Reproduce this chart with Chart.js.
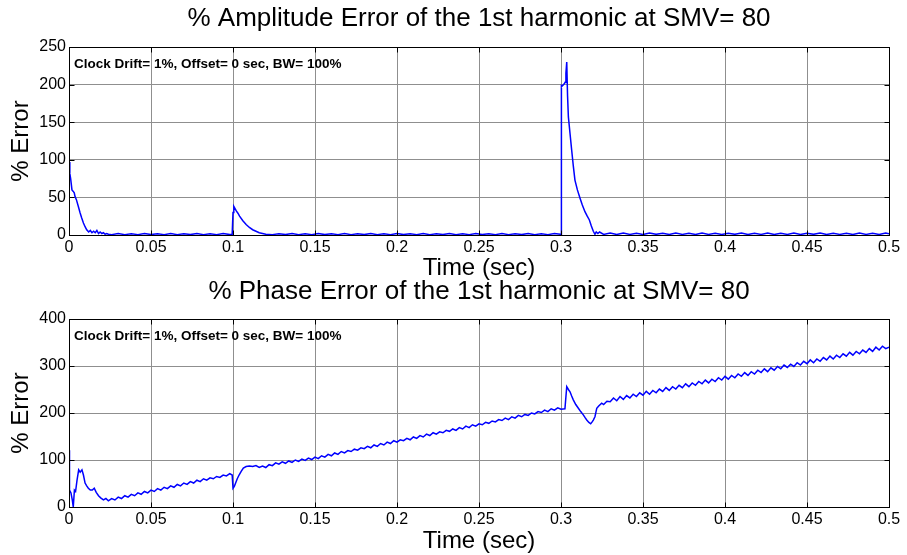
<!DOCTYPE html>
<html><head><meta charset="utf-8">
<script src="https://cdn.jsdelivr.net/npm/chart.js@4/dist/chart.umd.min.js"></script>
<style>
html,body{margin:0;padding:0;background:#fff;}
#wrap{position:relative;width:907px;height:555px;overflow:hidden;background:#fff;}
canvas{position:absolute;left:0;}
</style></head><body>
<div id="wrap">
<canvas id="c1" width="907" height="280" style="top:0"></canvas>
<canvas id="c2" width="907" height="275" style="top:280px"></canvas>
</div>
<script>
// ---------- DATA ----------
const xTickValues = [0,0.05,0.1,0.15,0.2,0.25,0.3,0.35,0.4,0.45,0.5];
const xTickLabels = ['0','0.05','0.1','0.15','0.2','0.25','0.3','0.35','0.4','0.45','0.5'];
const ampYTicks = [0,50,100,150,200,250];
const phaseYTicks = [0,100,200,300,400];

const ampTitle = '% Amplitude Error of the 1st harmonic at SMV= 80';
const phaseTitle = '% Phase Error of the 1st harmonic at SMV= 80';
const xAxisTitle = 'Time (sec)';
const yAxisTitle = '% Error';
const noteText = 'Clock Drift= 1%, Offset= 0 sec, BW= 100%';

const ampTime = [
0,0.0005,0.001,0.0018,0.0026,0.0032,0.0037,0.0045,0.0057,0.0067,0.0077,0.0088,0.0098,0.0108,0.012,0.013,0.014,0.015,0.016,0.017,0.018,0.019,0.02,0.021,0.022,0.023,0.024,
0.026,0.03,0.034,0.038,0.042,0.046,0.05,0.054,0.058,0.062,0.066,0.07,0.074,0.078,0.082,0.086,0.09,0.094,0.098,
0.0995,0.1,0.1005,0.101,0.102,0.103,0.104,0.106,0.108,0.11,0.112,0.114,0.116,0.118,0.12,
0.124,0.128,0.132,0.136,0.14,0.144,0.148,0.152,0.156,0.16,0.164,0.168,0.172,0.176,0.18,0.184,0.188,0.192,0.196,0.2,0.204,0.208,0.212,0.216,0.22,0.224,0.228,0.232,0.236,0.24,0.244,0.248,0.252,0.256,0.26,0.264,0.268,0.272,0.276,0.28,0.284,0.288,0.292,0.296,
0.2995,0.3,0.3,0.3005,0.3012,0.302,0.3025,0.303,0.3035,0.304,0.3045,0.3055,0.3065,0.3075,0.3085,0.31,0.3116,0.313,0.3146,0.316,0.3173,0.3185,0.3197,0.3207,0.3215,0.3225,0.3235,
0.326,0.33,0.334,0.338,0.342,0.346,0.35,0.354,0.358,0.362,0.366,0.37,0.374,0.378,0.382,0.386,0.39,0.394,0.398,0.402,0.406,0.41,0.414,0.418,0.422,0.426,0.43,0.434,0.438,0.442,0.446,0.45,0.454,0.458,0.462,0.466,0.47,0.474,0.478,0.482,0.486,0.49,0.494,0.498,0.5
];
const ampError = [
97,82,75,60,58,56,51,47,38,30,23,16,11,7,4,6,3,5,3,6,2,4,2,3,1,2,1,
0.5,2,0.5,1.8,0.5,2,0.6,1.8,0.5,2,0.5,1.8,0.6,2,0.5,1.8,0.5,2,0.6,
1,30,38,36,32,29,25,19,14,10,7,5,3,2,1,
0.5,1.8,0.6,2,0.5,1.7,0.5,1.9,0.6,1.8,0.5,2,0.5,1.8,0.6,1.9,0.5,1.8,0.5,2,0.6,1.8,0.5,1.9,0.5,1.8,0.6,2,0.5,1.8,0.5,1.9,0.6,1.8,0.5,2,0.5,1.8,0.6,1.9,0.5,1.8,0.5,2,
1,0,200,197,199,201,203,215,230,185,157,135,113,92,73,60,49,40,31,25,20,12,5,1,4,2,4,
0.8,2.5,0.7,2.6,0.8,2.3,0.7,2.5,0.9,2.4,0.7,2.6,0.8,2.3,0.7,2.5,0.8,2.4,0.7,2.3,0.9,2.6,0.7,2.4,0.8,2.5,0.7,2.3,0.8,2.6,0.7,2.4,0.9,2.5,0.7,2.4,0.8,2.3,0.7,2.6,0.8,2.4,0.7,2.5,1.5
];

const phaseTime = [
0,0.0003,0.0012,0.002,0.0026,0.0033,0.004,0.0049,0.0059,0.0068,0.0079,0.0088,0.0098,0.0108,0.0118,0.013,0.0142,0.0154,0.0166,0.018,0.0195,0.021,0.0225,
0.024,0.026,0.028,0.03,0.032,0.034,0.036,0.038,0.04,0.042,0.044,0.046,0.048,0.05,0.052,0.054,0.056,0.058,0.06,0.062,0.064,0.066,0.068,0.07,0.072,0.074,0.076,0.078,0.08,0.082,0.084,0.086,0.088,0.09,0.092,0.094,0.096,0.098,0.0995,
0.1,0.1008,0.1016,0.1026,0.1037,0.105,0.1063,0.108,0.11,
0.112,0.114,0.116,0.118,0.12,0.122,0.124,0.126,0.128,0.13,
0.132,0.134,0.136,0.138,0.14,0.142,0.144,0.146,0.148,0.15,
0.152,0.154,0.156,0.158,0.16,0.162,0.164,0.166,0.168,0.17,
0.172,0.174,0.176,0.178,0.18,0.182,0.184,0.186,0.188,0.19,
0.192,0.194,0.196,0.198,0.2,0.202,0.204,0.206,0.208,0.21,
0.212,0.214,0.216,0.218,0.22,0.222,0.224,0.226,0.228,0.23,
0.232,0.234,0.236,0.238,0.24,0.242,0.244,0.246,0.248,0.25,
0.252,0.254,0.256,0.258,0.26,0.262,0.264,0.266,0.268,0.27,
0.272,0.274,0.276,0.278,0.28,0.282,0.284,0.286,0.288,0.29,
0.292,0.294,0.296,0.298,
0.3,0.3024,0.3035,0.3045,0.3055,0.3065,0.3075,0.309,0.3106,0.312,0.3136,0.3147,0.3157,0.317,0.3181,0.319,0.3197,0.3207,0.3218,0.323,0.3248,0.326,0.328,
0.33,0.332,0.334,0.336,0.338,0.34,0.342,0.344,0.346,0.348,
0.35,0.352,0.354,0.356,0.358,0.36,0.362,0.364,0.366,0.368,
0.37,0.372,0.374,0.376,0.378,0.38,0.382,0.384,0.386,0.388,
0.39,0.392,0.394,0.396,0.398,0.4,0.402,0.404,0.406,0.408,
0.41,0.412,0.414,0.416,0.418,0.42,0.422,0.424,0.426,0.428,
0.43,0.432,0.434,0.436,0.438,0.44,0.442,0.444,0.446,0.448,
0.45,0.452,0.454,0.456,0.458,0.46,0.462,0.464,0.466,0.468,
0.47,0.472,0.474,0.476,0.478,0.48,0.482,0.484,0.486,0.488,
0.49,0.492,0.494,0.496,0.498,0.5
];
const phaseError = [
121,36,30,15,0,36,33,57,79,74,79,68,51,45,40,36,36,40,31,24,19,15,18,
13,18,15,21,18,24,21,27,24,30,27,33,30,36,33,39,36,42,39,45,42,48,45,51,48,54,51,57,54,60,57,62,60,65,63,68,66,71,68,
40,44,51,60,68,76,83,86,87,
86,88,84,87,84,90,88,94,91,96,
93,98,95,100,97,102,99,104,101,106,
103,109,106,112,109,115,112,118,115,120,
118,123,121,126,124,129,126,132,129,135,
132,138,135,141,138,143,141,146,143,149,
146,152,149,155,152,158,155,160,158,163,
161,166,163,169,166,172,169,175,172,177,
175,180,178,183,181,186,184,189,186,192,
189,195,192,197,195,200,198,203,201,206,
203,209,206,211,
208,209,256,250,245,236,228,218,210,203,196,190,185,180,177,181,185,192,210,215,221,218,225,
224,232,226,235,229,237,232,240,235,243,
238,246,240,248,243,251,246,254,248,256,
251,259,254,262,256,264,259,267,262,270,
264,272,267,275,270,278,272,280,275,283,
278,286,280,288,283,291,286,294,288,296,
291,299,294,302,297,304,299,307,302,310,
305,313,307,315,310,318,313,321,315,323,
318,326,321,329,323,331,326,334,329,337,
331,340,334,342,337,340
];

// ---------- RENDER ----------
const FONT = '"Liberation Sans", Arial, Helvetica, sans-serif';

const decor = {
  id: 'decor',
  afterDatasetsDraw(chart, args, o) {
    const {ctx, chartArea: a, scales: {x, y}} = chart;
    const L = Math.round(a.left) + 0.5, R = Math.round(a.right) + 0.5;
    const T = Math.round(a.top) + 0.5, B = Math.round(a.bottom) + 0.5;
    ctx.save();
    ctx.strokeStyle = '#000';
    ctx.lineWidth = 1;
    ctx.beginPath();
    x.ticks.forEach(t => {
      const px = Math.round(x.getPixelForValue(t.value)) + 0.5;
      ctx.moveTo(px, B); ctx.lineTo(px, B - 5);
      ctx.moveTo(px, T); ctx.lineTo(px, T + 5);
    });
    y.ticks.forEach(t => {
      const py = Math.round(y.getPixelForValue(t.value)) + 0.5;
      ctx.moveTo(L, py); ctx.lineTo(L + 5, py);
      ctx.moveTo(R, py); ctx.lineTo(R - 5, py);
    });
    ctx.stroke();
    ctx.strokeRect(L, T, R - L, B - T);
    // annotation
    ctx.fillStyle = '#000';
    ctx.font = 'bold 13.5px ' + FONT;
    ctx.textAlign = 'left';
    ctx.textBaseline = 'middle';
    ctx.fillText(o.note, a.left + 5, a.top + 17);
    // title centered over plot area
    ctx.font = o.titleSize + 'px ' + FONT;
    ctx.textAlign = 'center';
    ctx.fillText(o.title, (a.left + a.right) / 2, o.titleY);
    ctx.restore();
  }
};

function makeChart(id, times, values, yTicks, yMax, geo) {
  const pts = times.map((t, i) => ({x: t, y: values[i]}));
  return new Chart(document.getElementById(id), {
    type: 'line',
    data: {datasets: [{data: pts, borderColor: '#0000ff', borderWidth: 1.5, pointRadius: 0, tension: 0, fill: false}]},
    plugins: [decor],
    options: {
      responsive: false,
      animation: false,
      layout: {padding: {top: geo.top, right: 18, left: 0, bottom: 0}},
      plugins: {
        legend: {display: false},
        tooltip: {enabled: false},
        decor: {note: noteText, title: geo.title, titleY: geo.titleY, titleSize: geo.titleSize}
      },
      scales: {
        x: {
          type: 'linear', min: 0, max: 0.5,
          afterBuildTicks: s => { s.ticks = xTickValues.map(v => ({value: v})); },
          afterFit: s => { s.height = geo.xh; },
          ticks: {color: '#000', padding: 3, font: {family: FONT, size: 16}, maxRotation: 0, autoSkip: false,
                  callback: (v, i) => xTickLabels[i]},
          grid: {color: '#8f8f8f', lineWidth: 1, drawTicks: false},
          border: {display: false},
          title: {display: true, text: xAxisTitle, color: '#000', font: {family: FONT, size: 24, lineHeight: 1}, padding: {top: 0, bottom: geo.xtb}}
        },
        y: {
          type: 'linear', min: 0, max: yMax,
          afterBuildTicks: s => { s.ticks = yTicks.map(v => ({value: v})); },
          afterFit: s => { s.width = 69; },
          ticks: {color: '#000', padding: 3, font: {family: FONT, size: 16}, autoSkip: false,
                  callback: v => String(v)},
          grid: {color: '#8f8f8f', lineWidth: 1, drawTicks: false},
          border: {display: false},
          title: {display: true, text: yAxisTitle, color: '#000', font: {family: FONT, size: 24, lineHeight: 1}, padding: {top: 9, bottom: 0}}
        }
      }
    }
  });
}

makeChart('c1', ampTime, ampError, ampYTicks, 250, {top: 47, xh: 45, xtb: 0, title: ampTitle, titleY: 19, titleSize: 26});
makeChart('c2', phaseTime, phaseError, phaseYTicks, 400, {top: 39, xh: 48, xtb: 2, title: phaseTitle, titleY: 12, titleSize: 26});
</script></body></html>
